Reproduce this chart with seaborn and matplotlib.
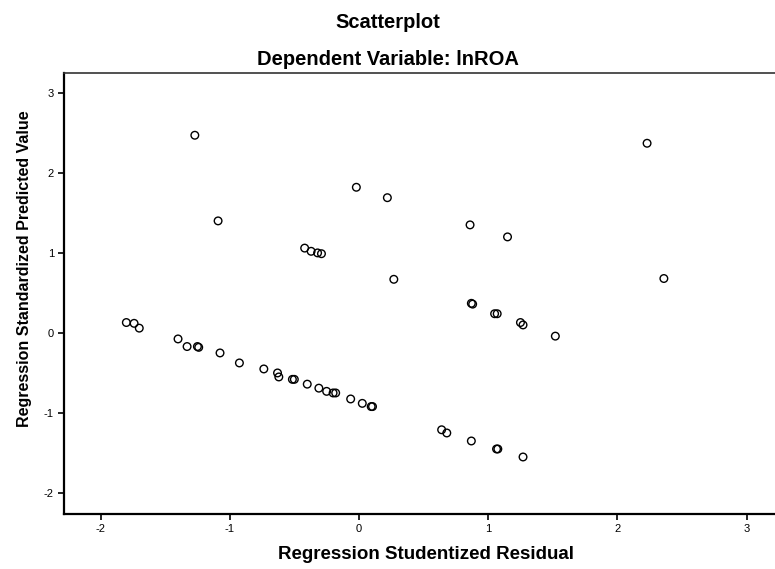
import matplotlib
matplotlib.use("Agg")
import matplotlib.pyplot as plt
import seaborn as sns
import pandas as pd

sns.set_theme(style="white")
plt.rcParams["font.family"] = ["Liberation Sans", "DejaVu Sans"]
plt.rcParams["axes.unicode_minus"] = False
plt.rcParams["text.color"] = "black"
plt.rcParams["axes.labelcolor"] = "black"

# Studentized residuals (x) and standardized predicted values (y)
resid = [-1.27, 2.23, -0.02, 0.22, -1.09, 0.86, 1.15, -0.42, -0.37, -0.32, -0.29,
         0.27, 2.36,
         0.87, 0.88, 1.05, 1.07, 1.25, 1.27, 1.52,
         -1.80, -1.74, -1.70,
         -1.40, -1.33, -1.25, -1.24, -1.075, -0.925, -0.736, -0.63, -0.62,
         -0.515, -0.50, -0.40, -0.31, -0.25, -0.20, -0.18, -0.064, 0.026,
         0.095, 0.105, 0.64, 0.68, 0.87, 1.065, 1.075, 1.27]
pred = [2.47, 2.37, 1.82, 1.69, 1.40, 1.35, 1.20, 1.06, 1.02, 1.00, 0.99,
        0.67, 0.68,
        0.37, 0.36, 0.24, 0.24, 0.13, 0.10, -0.04,
        0.13, 0.12, 0.06,
        -0.075, -0.17, -0.17, -0.18, -0.25, -0.375, -0.45, -0.50, -0.55,
        -0.58, -0.58, -0.64, -0.69, -0.73, -0.75, -0.75, -0.825, -0.88,
        -0.92, -0.92, -1.21, -1.25, -1.35, -1.45, -1.45, -1.55]

x_ticks = [-2, -1, 0, 1, 2, 3]
y_ticks = [-2, -1, 0, 1, 2, 3]

df = pd.DataFrame({"resid": resid, "pred": pred})

fig = plt.figure(figsize=(7.75, 5.69), dpi=100)
ax = fig.add_axes([0.083, 0.097, 0.917, 0.775])

sns.scatterplot(data=df, x="resid", y="pred", ax=ax, marker="o", s=30,
                facecolor="none", edgecolor="black", linewidth=1.0)

ax.set_xlim(-2.28, 3.22)
ax.set_ylim(-2.26, 3.25)
ax.set_xticks(x_ticks)
ax.set_yticks(y_ticks)
ax.tick_params(axis="both", direction="out", length=4, width=1.2,
               labelsize=8, colors="black", bottom=True, left=True)

for side in ["left", "bottom"]:
    ax.spines[side].set_color("black")
    ax.spines[side].set_linewidth(1.6)
ax.spines["top"].set_color("#333333")
ax.spines["top"].set_linewidth(1.2)
ax.spines["right"].set_visible(False)

ax.set_xlabel("Regression Studentized Residual", fontsize=13.5, fontweight="bold")
ax.set_ylabel("Regression Standardized Predicted Value", fontsize=11.5, fontweight="bold")
ax.xaxis.set_label_coords(0.509, -0.074)
ax.yaxis.set_label_coords(-0.045, 0.556)

fig.text(0.5, 0.951, "Scatterplot", ha="center", va="baseline", fontsize=14.5, fontweight="bold")
fig.text(0.5, 0.886, "Dependent Variable: lnROA", ha="center", va="baseline", fontsize=14.5, fontweight="bold")

plt.savefig("out.png", dpi=100)
plt.close()
